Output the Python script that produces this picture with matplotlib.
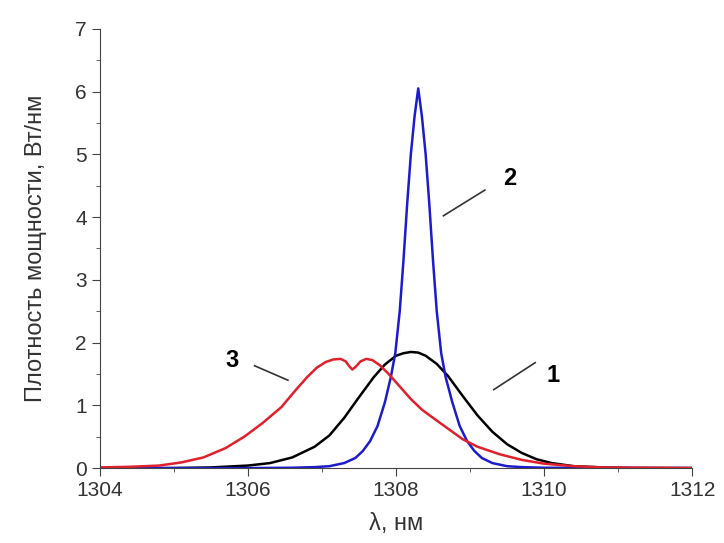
import numpy as np
import matplotlib.pyplot as plt
from matplotlib.ticker import MultipleLocator

# curve 1 (black)
wl_1 = [1304.0, 1305.0, 1305.5, 1306.0, 1306.3, 1306.6, 1306.9, 1307.1, 1307.3,
        1307.5, 1307.7, 1307.85, 1308.0, 1308.1, 1308.2, 1308.3, 1308.4, 1308.55,
        1308.7, 1308.9, 1309.1, 1309.3, 1309.5, 1309.7, 1309.9, 1310.1, 1310.4,
        1310.8, 1311.2, 1312.0]
p_1 = [0.0, 0.0, 0.01, 0.04, 0.08, 0.17, 0.34, 0.52, 0.8,
       1.13, 1.45, 1.65, 1.79, 1.83, 1.85, 1.84, 1.79, 1.66,
       1.47, 1.15, 0.84, 0.58, 0.38, 0.24, 0.14, 0.08, 0.03,
       0.01, 0.0, 0.0]

# curve 2 (blue)
wl_2 = [1304.0, 1306.0, 1306.6, 1306.9, 1307.1, 1307.3, 1307.45, 1307.55,
        1307.65, 1307.75, 1307.85, 1307.93, 1307.99, 1308.05, 1308.1, 1308.15,
        1308.2, 1308.25, 1308.3, 1308.35, 1308.4, 1308.45,
        1308.5, 1308.55, 1308.61, 1308.67, 1308.76, 1308.86, 1308.96, 1309.06,
        1309.16, 1309.3, 1309.5, 1309.7, 1310.0, 1312.0]
p_2 = [0.0, 0.0, 0.005, 0.015, 0.03, 0.08, 0.16, 0.27,
       0.43, 0.67, 1.05, 1.45, 1.83, 2.5, 3.3, 4.2,
       5.0, 5.6, 6.05, 5.6, 5.0, 4.2,
       3.3, 2.5, 1.83, 1.45, 1.05, 0.67, 0.43, 0.27,
       0.16, 0.08, 0.03, 0.015, 0.005, 0.0]

# curve 3 (red)
wl_3 = [1304.0, 1304.4, 1304.8, 1305.1, 1305.4, 1305.7, 1305.95, 1306.2,
        1306.45, 1306.65, 1306.8, 1306.93, 1307.05, 1307.15, 1307.25, 1307.32,
        1307.37, 1307.41, 1307.46, 1307.52, 1307.6, 1307.68, 1307.78, 1307.9,
        1308.05, 1308.2, 1308.35, 1308.5, 1308.7, 1308.9, 1309.1, 1309.4,
        1309.7, 1310.0, 1310.4, 1310.8, 1312.0]
p_3 = [0.01, 0.02, 0.04, 0.09, 0.17, 0.32, 0.5, 0.72,
       0.97, 1.25, 1.45, 1.6, 1.69, 1.73, 1.74, 1.7,
       1.62, 1.57, 1.62, 1.7, 1.74, 1.72, 1.64, 1.5,
       1.3, 1.1, 0.93, 0.8, 0.63, 0.46, 0.34, 0.22,
       0.13, 0.07, 0.03, 0.01, 0.0]

plt.rcParams['font.family'] = ['Liberation Sans', 'DejaVu Sans']

fig = plt.figure(figsize=(7.24, 5.43), dpi=100)
ax = fig.add_axes([0.138, 0.138, 0.818, 0.809])

ax.plot(wl_1, p_1, color='black', lw=1.8)
ax.plot(wl_2, p_2, color='#1c1ccc', lw=1.8)
ax.plot(wl_3, p_3, color='#e0202c', lw=1.8)

ax.set_xlim(1304, 1312)
ax.set_ylim(0, 7)
ax.xaxis.set_major_locator(MultipleLocator(2))
ax.xaxis.set_minor_locator(MultipleLocator(1))
ax.yaxis.set_major_locator(MultipleLocator(1))
ax.yaxis.set_minor_locator(MultipleLocator(0.5))
for s in ['top', 'right']:
    ax.spines[s].set_visible(False)
for s in ['left', 'bottom']:
    ax.spines[s].set_color('#444444')
ax.tick_params(which='major', length=6, color='#444444', labelsize=15,
               labelcolor='#333333')
ax.tick_params(which='minor', length=3, color='#444444')

ax.set_xlabel('λ, нм', fontsize=17, color='#333333', labelpad=9)
ax.set_ylabel('Плотность мощности, Вт/нм', fontsize=17, color='#333333',
              labelpad=20)

# curve labels with leader lines
ax.plot([1308.64, 1309.20], [4.02, 4.43], color='#333333', lw=1.2)
ax.text(1309.54, 4.62, '2', fontsize=17, fontweight='bold',
        ha='center', va='center')
ax.plot([1309.32, 1309.88], [1.25, 1.68], color='#333333', lw=1.2)
ax.text(1310.12, 1.48, '1', fontsize=17, fontweight='bold',
        ha='center', va='center')
ax.plot([1306.09, 1306.54], [1.63, 1.40], color='#333333', lw=1.2)
ax.text(1305.79, 1.71, '3', fontsize=17, fontweight='bold',
        ha='center', va='center')

fig.savefig('out.png', dpi=100)
